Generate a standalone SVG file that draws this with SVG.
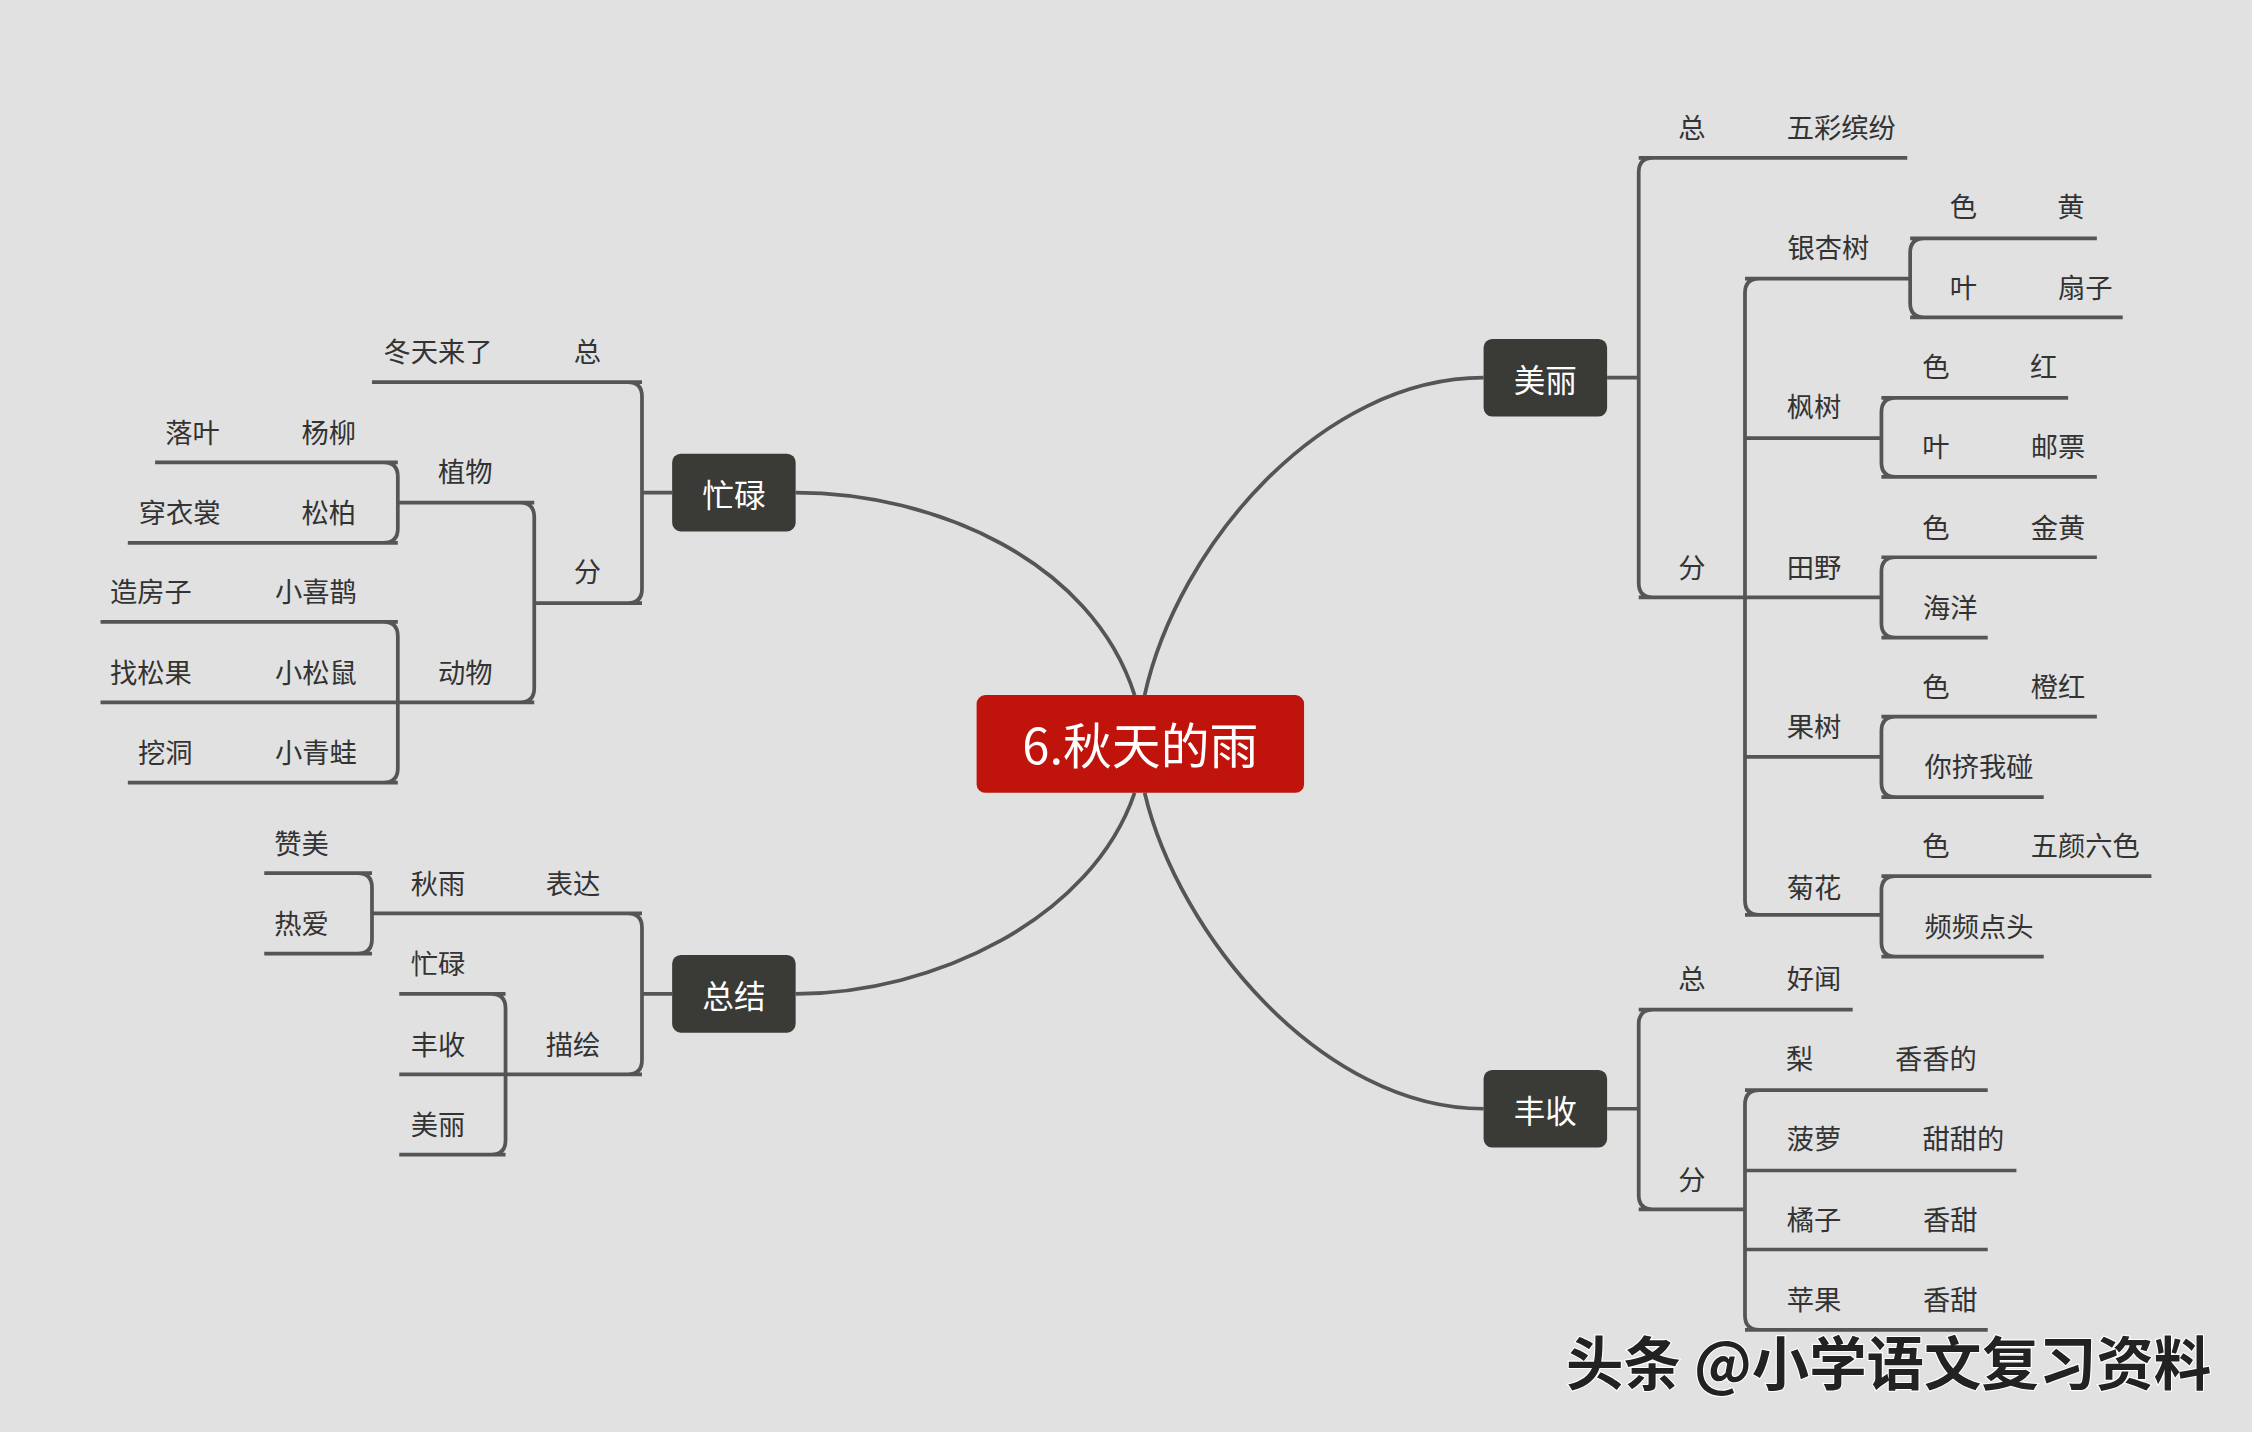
<svg xmlns="http://www.w3.org/2000/svg" width="2252" height="1432" viewBox="0 0 2252 1432">
<style>
.l{fill:none;stroke:#555;stroke-width:2.6}
.t{font-family:"Noto Sans CJK SC","Noto Sans",sans-serif;font-size:19px;fill:#333;text-anchor:middle;dominant-baseline:central}
.w{font-family:"Noto Sans CJK SC","Noto Sans",sans-serif;font-size:22px;fill:#fff;text-anchor:middle;dominant-baseline:central}
.n{fill:#3a3a36}
</style>
<rect width="2252" height="1432" fill="#e1e1e1"/>
<g transform="scale(1.4362)">
<g id="connectors">
<path class="l" d="M790,484 C760,390 650,343 554,343"/>
<path class="l" d="M797,484 C820,380 920,263 1033,263"/>
<path class="l" d="M790,552 C760,640 650,692 554,692"/>
<path class="l" d="M797,552 C820,650 920,772 1033,772"/>
<!-- 美丽 -->
<path class="l" d="M1119,263H1141 M1151,110Q1141,110 1141,120V406Q1141,416 1151,416 M1141,110H1328 M1141,416H1215"/>
<path class="l" d="M1225,194Q1215,194 1215,204V627Q1215,637 1225,637 M1215,194H1330 M1215,305H1310 M1215,416H1310 M1215,527H1310 M1215,637H1310"/>
<path class="l" d="M1340,166Q1330,166 1330,176V211Q1330,221 1340,221 M1330,166H1460 M1330,221H1478"/>
<path class="l" d="M1320,277Q1310,277 1310,287V322Q1310,332 1320,332 M1310,277H1440 M1310,332H1460"/>
<path class="l" d="M1320,388Q1310,388 1310,398V434Q1310,444 1320,444 M1310,388H1460 M1310,444H1384"/>
<path class="l" d="M1320,499Q1310,499 1310,509V545Q1310,555 1320,555 M1310,499H1460 M1310,555H1423"/>
<path class="l" d="M1320,610Q1310,610 1310,620V656Q1310,666 1320,666 M1310,610H1498 M1310,666H1423"/>
<!-- 丰收 -->
<path class="l" d="M1119,772H1141 M1151,703Q1141,703 1141,713V832Q1141,842 1151,842 M1141,703H1290 M1141,842H1215"/>
<path class="l" d="M1225,759Q1215,759 1215,769V916Q1215,926 1225,926 M1215,759H1384 M1215,815H1404 M1215,870H1384 M1215,926H1384"/>
<!-- 忙碌 -->
<path class="l" d="M468,343H447 M437,266Q447,266 447,276V410Q447,420 437,420 M447,266H259 M447,420H372"/>
<path class="l" d="M362,350Q372,350 372,360V479Q372,489 362,489 M372,350H277 M372,489H277"/>
<path class="l" d="M267,322Q277,322 277,332V368Q277,378 267,378 M277,322H108 M277,378H89"/>
<path class="l" d="M267,433Q277,433 277,443V535Q277,545 267,545 M277,433H70 M277,489H70 M277,545H89"/>
<!-- 总结 -->
<path class="l" d="M468,692H447 M437,636Q447,636 447,646V738Q447,748 437,748 M447,636H259 M447,748H352"/>
<path class="l" d="M249,608Q259,608 259,618V654Q259,664 249,664 M259,608H184 M259,664H184"/>
<path class="l" d="M342,692Q352,692 352,702V794Q352,804 342,804 M352,692H278 M352,748H278 M352,804H278"/>
</g>
<g id="center"><rect x="680" y="484" width="228" height="68" rx="6" fill="#c0130b"/><text x="794" y="517" class="w" style="font-size:34px">6.秋天的雨</text></g>
<g id="mangl"><rect class="n" x="468" y="316" width="86" height="54" rx="6"/><text class="w" x="511" y="343">忙碌</text></g>
<g id="meili"><rect class="n" x="1033" y="236" width="86" height="54" rx="6"/><text class="w" x="1076" y="263">美丽</text></g>
<g id="fengshou"><rect class="n" x="1033" y="745" width="86" height="54" rx="6"/><text class="w" x="1076" y="772">丰收</text></g>
<g id="zongjie"><rect class="n" x="468" y="665" width="86" height="54" rx="6"/><text class="w" x="511" y="692">总结</text></g>
<g id="labels">
<text class="t" x="1178" y="88">总</text><text class="t" x="1282" y="88">五彩缤纷</text>
<text class="t" x="1178" y="394">分</text>
<text class="t" x="1273" y="171">银杏树</text><text class="t" x="1367" y="143">色</text><text class="t" x="1442" y="143">黄</text><text class="t" x="1367" y="199">叶</text><text class="t" x="1452" y="199">扇子</text>
<text class="t" x="1263" y="282">枫树</text><text class="t" x="1348" y="254">色</text><text class="t" x="1423" y="254">红</text><text class="t" x="1348" y="310">叶</text><text class="t" x="1433" y="310">邮票</text>
<text class="t" x="1263" y="394">田野</text><text class="t" x="1348" y="366">色</text><text class="t" x="1433" y="366">金黄</text><text class="t" x="1358" y="422">海洋</text>
<text class="t" x="1263" y="505">果树</text><text class="t" x="1348" y="477">色</text><text class="t" x="1433" y="477">橙红</text><text class="t" x="1378" y="533">你挤我碰</text>
<text class="t" x="1263" y="617">菊花</text><text class="t" x="1348" y="588">色</text><text class="t" x="1452" y="588">五颜六色</text><text class="t" x="1378" y="644">频频点头</text>
<text class="t" x="1178" y="680">总</text><text class="t" x="1263" y="680">好闻</text><text class="t" x="1178" y="820">分</text>
<text class="t" x="1253" y="736">梨</text><text class="t" x="1348" y="736">香香的</text>
<text class="t" x="1263" y="792">菠萝</text><text class="t" x="1367" y="792">甜甜的</text>
<text class="t" x="1263" y="848">橘子</text><text class="t" x="1358" y="848">香甜</text>
<text class="t" x="1263" y="904">苹果</text><text class="t" x="1358" y="904">香甜</text>
<text class="t" x="305" y="244">冬天来了</text><text class="t" x="409" y="244">总</text><text class="t" x="409" y="397">分</text>
<text class="t" x="324" y="327">植物</text><text class="t" x="324" y="467">动物</text>
<text class="t" x="134" y="300">落叶</text><text class="t" x="229" y="300">杨柳</text>
<text class="t" x="125" y="356">穿衣裳</text><text class="t" x="229" y="356">松柏</text>
<text class="t" x="105" y="411">造房子</text><text class="t" x="220" y="411">小喜鹊</text>
<text class="t" x="105" y="467">找松果</text><text class="t" x="220" y="467">小松鼠</text>
<text class="t" x="115" y="523">挖洞</text><text class="t" x="220" y="523">小青蛙</text>
<text class="t" x="210" y="586">赞美</text><text class="t" x="210" y="642">热爱</text>
<text class="t" x="305" y="614">秋雨</text><text class="t" x="399" y="614">表达</text>
<text class="t" x="305" y="670">忙碌</text><text class="t" x="305" y="726">丰收</text><text class="t" x="305" y="782">美丽</text><text class="t" x="399" y="726">描绘</text>
</g>
<text x="1315" y="947" style="font-family:'Noto Sans CJK SC',sans-serif;font-size:40px;font-weight:bold;fill:#222;stroke:#fff;stroke-width:1.5;paint-order:stroke;text-anchor:middle;dominant-baseline:central">头条 @小学语文复习资料</text>
</g>
</svg>
